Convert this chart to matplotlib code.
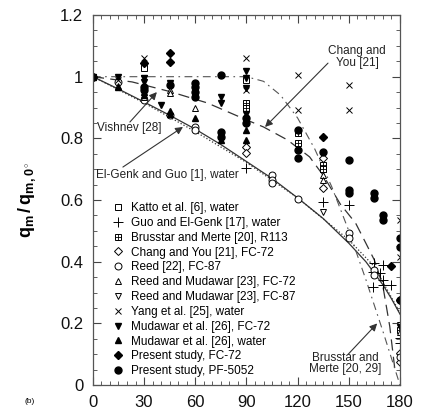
import numpy as np
import matplotlib
matplotlib.use("Agg")
import matplotlib.pyplot as plt
from matplotlib.ticker import MultipleLocator

plt.rcParams["font.family"] = ["Liberation Sans", "DejaVu Sans"]
plt.rcParams["mathtext.fontset"] = "custom"
plt.rcParams["mathtext.rm"] = "Liberation Sans"
plt.rcParams["mathtext.bf"] = "Liberation Sans:bold"
plt.rcParams["mathtext.default"] = "bf"

# --- data (theta in degrees, q_m / q_m,0) ---
katto_t = [0, 30, 90, 135]
katto_q = [1.0, 1.028, 0.99, 0.70]

guo_t = [90, 135, 150, 165, 170, 164, 168, 170, 164, 170, 175, 180, 180]
guo_q = [0.705, 0.594, 0.584, 0.396, 0.39, 0.367, 0.363, 0.34, 0.318, 0.324, 0.324, 0.152, 0.136]

brus_t = [90, 90, 120, 120, 135, 135, 180]
brus_q = [0.915, 0.898, 0.817, 0.785, 0.714, 0.70, 0.18]

chang_t = [90, 90, 135, 135, 180, 180]
chang_q = [0.772, 0.752, 0.736, 0.64, 0.104, 0.075]

reed_t = [15, 30, 45, 60, 60, 105, 105, 105, 120, 150, 150, 165, 165, 180]
reed_q = [0.983, 0.924, 0.876, 0.837, 0.827, 0.68, 0.665, 0.655, 0.603, 0.493, 0.477, 0.373, 0.357, 0.09]

rm72_t = [15, 30, 45, 45, 60, 135, 135, 180]
rm72_q = [0.97, 0.934, 0.957, 0.947, 0.898, 0.68, 0.665, 0.172]

rm87_t = [30, 135, 180]
rm87_q = [0.996, 0.561, 0.195]

yang_t = [15, 30, 90, 90, 120, 120, 150, 150, 180, 180]
yang_q = [0.99, 1.06, 1.06, 0.957, 1.005, 0.892, 0.973, 0.892, 0.535, 0.415]

mud72_t = [0, 15, 30, 30, 40, 45, 75, 75, 90, 90, 90, 90, 180]
mud72_q = [1.0, 1.0, 0.996, 0.983, 0.908, 0.98, 0.934, 0.915, 1.02, 0.996, 0.963, 0.88, 0.188]

mudw_t = [0, 15, 30, 30, 45, 45, 60, 75, 90, 90]
mudw_q = [1.0, 0.965, 0.95, 0.94, 0.89, 0.88, 0.866, 0.795, 0.827, 0.795]

pfc_t = [0, 30, 45, 45, 135, 175, 180]
pfc_q = [1.0, 1.044, 1.077, 1.048, 0.805, 0.386, 0.276]

ppf_t = [0, 30, 30, 45, 60, 60, 60, 60, 75, 75, 75, 90, 90, 120, 120, 120, 135,
         150, 150, 150, 165, 165, 170, 170, 180, 180, 180]
ppf_q = [1.0, 0.967, 0.957, 0.973, 0.98, 0.965, 0.95, 0.935, 1.005, 0.82, 0.805, 0.866, 0.85,
         0.827, 0.762, 0.736, 0.756, 0.73, 0.632, 0.623, 0.623, 0.607, 0.55, 0.535, 0.477, 0.448, 0.276]

# correlation curves, points
vish_t = [0, 15, 30, 45, 60, 75, 90, 105, 120, 135, 150, 160, 170, 175, 180]
vish_q = [1.0, 0.96, 0.918, 0.875, 0.83, 0.78, 0.725, 0.67, 0.607, 0.54, 0.46, 0.40, 0.325, 0.28, 0.23]

elgenk_t = [0, 30, 60, 90, 120, 150, 165, 180]
elgenk_q = [1.0, 0.915, 0.822, 0.722, 0.607, 0.471, 0.384, 0.234]

cy_t = [0, 23, 45, 67, 90, 100, 114, 127, 135, 145, 154, 160, 165, 170, 174, 177]
cy_q = [1.0, 0.983, 0.952, 0.915, 0.86, 0.837, 0.795, 0.74, 0.68, 0.587, 0.525, 0.46, 0.405, 0.32, 0.19, 0.05]

bm_t = [0, 90, 100, 110, 120, 130, 140, 150, 160, 170, 180]
bm_q = [1.0, 1.0, 0.985, 0.94, 0.866, 0.766, 0.643, 0.5, 0.342, 0.174, 0.0]

fig = plt.figure(figsize=(4.26, 4.11), dpi=100)
ax = fig.add_axes([0.218, 0.063, 0.721, 0.9005])

lc = "#333333"
ax.plot(vish_t, vish_q, "-", color=lc, lw=0.9)
ax.plot(elgenk_t, elgenk_q, ":", color=lc, lw=0.9)
ax.plot(cy_t, cy_q, color=lc, lw=0.9, dashes=(9, 5))
ax.plot(bm_t, bm_q, color="#555555", lw=0.8, dashes=(7, 4, 1.5, 4))

ms = 5
op = dict(ls="none", mfc="white", mec="black", mew=0.7, ms=ms)
fp = dict(ls="none", mfc="black", mec="black", ms=ms)

h_katto, = ax.plot(katto_t, katto_q, "s", **op)
h_guo, = ax.plot(guo_t, guo_q, "+", color="black", mew=0.7, ms=6.5, ls="none")
h_b1, = ax.plot(brus_t, brus_q, "s", **op)
h_b2, = ax.plot(brus_t, brus_q, "+", color="black", mew=0.6, ms=ms, ls="none")
h_chang, = ax.plot(chang_t, chang_q, "D", mfc="white", mec="black", mew=0.7, ms=4.4, ls="none")
h_reed, = ax.plot(reed_t, reed_q, "o", **op)
h_rm72, = ax.plot(rm72_t, rm72_q, "^", **op)
h_rm87, = ax.plot(rm87_t, rm87_q, "v", **op)
h_yang, = ax.plot(yang_t, yang_q, "x", color="black", mew=0.7, ms=4.6, ls="none")
h_m72, = ax.plot(mud72_t, mud72_q, "v", **fp)
h_mw, = ax.plot(mudw_t, mudw_q, "^", **fp)
h_pfc, = ax.plot(pfc_t, pfc_q, "D", mfc="black", mec="black", ms=4.4, ls="none")
h_ppf, = ax.plot(ppf_t, ppf_q, "o", **fp)

handles = [h_katto, h_guo, (h_b1, h_b2), h_chang, h_reed, h_rm72, h_rm87,
           h_yang, h_m72, h_mw, h_pfc, h_ppf]
labels = ["Katto et al. [6], water", "Guo and El-Genk [17], water",
          "Brusstar and Merte [20], R113", "Chang and You [21], FC-72",
          "Reed [22], FC-87", "Reed and Mudawar [23], FC-72",
          "Reed and Mudawar [23], FC-87", "Yang et al. [25], water",
          "Mudawar et al. [26], FC-72", "Mudawar et al. [26], water",
          "Present study, FC-72", "Present study, PF-5052"]
ax.legend(handles, labels, loc="upper left", bbox_to_anchor=(0.035, 0.517),
          frameon=False, fontsize=8.5, labelspacing=0.24, handlelength=1.0,
          handletextpad=0.6, borderpad=0.2)

# annotations
tk = dict(fontsize=8.5, color="#222222")
ap = dict(arrowstyle="-|>", color=lc, lw=0.8, mutation_scale=11, shrinkA=0, shrinkB=0)
ax.text(154.8, 1.064, "Chang and\nYou [21]", ha="center", va="center", linespacing=0.95, **tk)
ax.annotate("", xy=(100.9, 0.837), xytext=(137.8, 1.044), arrowprops=ap)
ax.text(2.3, 0.834, "Vishnev [28]", ha="left", va="center", **tk)
ax.annotate("", xy=(37.5, 0.950), xytext=(21.7, 0.853), arrowprops=ap)
ax.text(1.8, 0.681, "El-Genk and Guo [1], water", ha="left", va="center", **tk)
ax.annotate("", xy=(52.8, 0.837), xytext=(17.6, 0.707), arrowprops=ap)
ax.text(147.8, 0.07, "Brusstar and\nMerte [20, 29]", ha="center", va="center", linespacing=0.95, **tk)
ax.annotate("", xy=(166.6, 0.20), xytext=(149.6, 0.10), arrowprops=ap)

ax.set_xlim(0, 180)
ax.set_ylim(0, 1.2)
ax.xaxis.set_major_locator(MultipleLocator(30))
ax.xaxis.set_minor_locator(MultipleLocator(5))
ax.yaxis.set_major_locator(MultipleLocator(0.2))
ax.yaxis.set_minor_locator(MultipleLocator(0.05))
ax.set_yticks([0, 0.2, 0.4, 0.6, 0.8, 1.0, 1.2])
ax.set_yticklabels(["0", "0.2", "0.4", "0.6", "0.8", "1", "1.2"])
ax.tick_params(which="both", direction="in", top=True, right=True, color="#444444",
               labelsize=12, labelcolor="#111111")
ax.tick_params(which="major", length=6, width=0.8, pad=7)
ax.tick_params(which="minor", length=3, width=0.6)
for s in ax.spines.values():
    s.set_color("#555555")
    s.set_linewidth(0.9)

ax.set_ylabel(r"$q_m\,/\,q_{m,0^\circ}$", fontsize=13, labelpad=16)
fig.text(0.07, 0.022, "(b)", fontsize=6, ha="center", va="center")

fig.savefig("out.png", dpi=100)
